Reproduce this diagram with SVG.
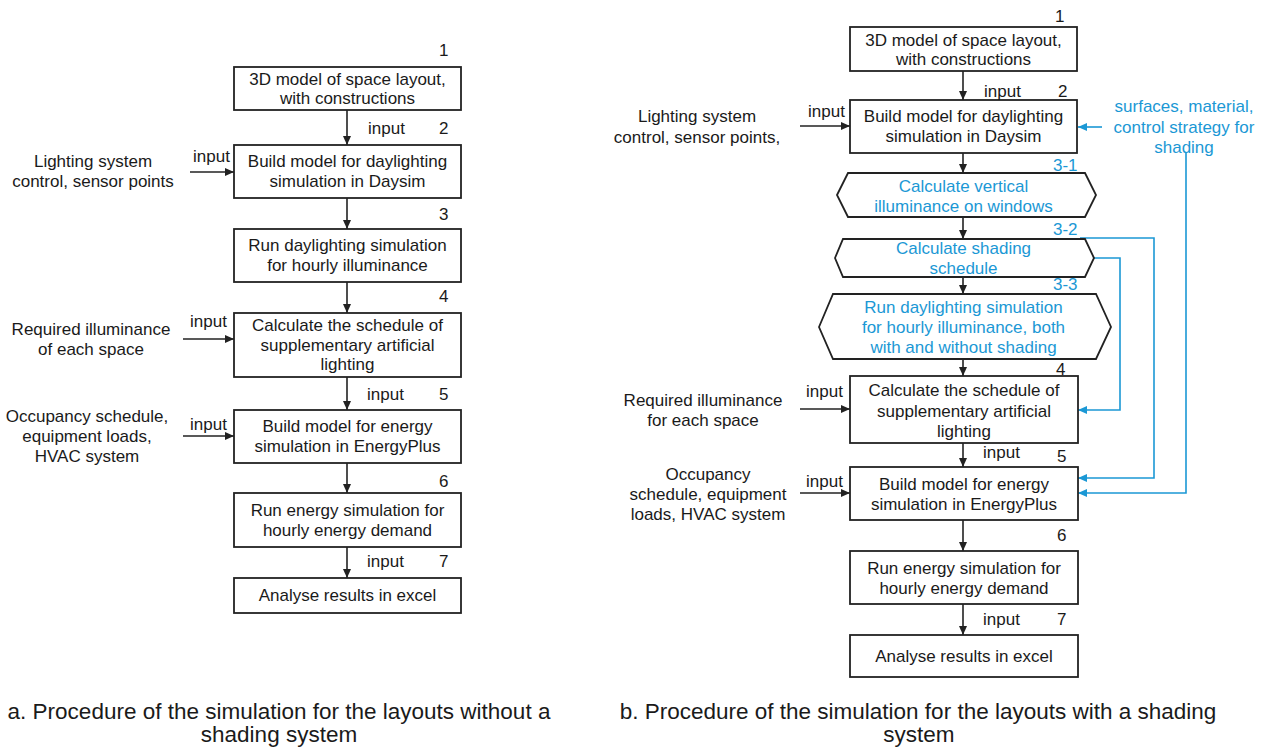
<svg xmlns="http://www.w3.org/2000/svg" width="1264" height="749" viewBox="0 0 1264 749">
<defs>
<style>
text{font-family:"Liberation Sans",Arial,sans-serif;font-size:17px;fill:#1a1a1a}
.c{text-anchor:middle}
.b{fill:#1b98d5}
.cap{font-size:22.5px}
.box{fill:#fff;stroke:#222;stroke-width:1.8}
.ln{fill:none;stroke:#222;stroke-width:1.6}
.bl{fill:none;stroke:#1b98d5;stroke-width:1.6}
</style>
<marker id="ah" markerWidth="10" markerHeight="10" refX="9" refY="5" orient="auto" markerUnits="userSpaceOnUse">
<path d="M0,1 L9,5 L0,9 Z" fill="#222"/>
</marker>
<marker id="ahb" markerWidth="10" markerHeight="10" refX="9" refY="5" orient="auto" markerUnits="userSpaceOnUse">
<path d="M0,1 L9,5 L0,9 Z" fill="#1b98d5"/>
</marker>
</defs>
<rect width="1264" height="749" fill="#fff"/>

<g id="connectors">
<!-- left diagram -->
<line class="ln" x1="347" y1="110" x2="347" y2="145" marker-end="url(#ah)"/>
<line class="ln" x1="190" y1="172" x2="234" y2="172" marker-end="url(#ah)"/>
<line class="ln" x1="347" y1="198" x2="347" y2="229" marker-end="url(#ah)"/>
<line class="ln" x1="347" y1="282" x2="347" y2="313" marker-end="url(#ah)"/>
<line class="ln" x1="183" y1="339" x2="234" y2="339" marker-end="url(#ah)"/>
<line class="ln" x1="347" y1="377" x2="347" y2="410" marker-end="url(#ah)"/>
<line class="ln" x1="183" y1="436" x2="234" y2="436" marker-end="url(#ah)"/>
<line class="ln" x1="347" y1="463" x2="347" y2="493" marker-end="url(#ah)"/>
<line class="ln" x1="347" y1="547" x2="347" y2="578" marker-end="url(#ah)"/>
<!-- right diagram -->
<line class="ln" x1="963" y1="71" x2="963" y2="100" marker-end="url(#ah)"/>
<line class="ln" x1="800" y1="126" x2="850" y2="126" marker-end="url(#ah)"/>
<line class="bl" x1="1102" y1="127" x2="1078" y2="127" marker-end="url(#ahb)"/>
<line class="ln" x1="963" y1="153" x2="963" y2="173" marker-end="url(#ah)"/>
<line class="ln" x1="963" y1="217" x2="963" y2="239" marker-end="url(#ah)"/>
<line class="ln" x1="963" y1="277" x2="963" y2="294" marker-end="url(#ah)"/>
<line class="ln" x1="963" y1="359" x2="963" y2="376" marker-end="url(#ah)"/>
<line class="ln" x1="800" y1="409" x2="850" y2="409" marker-end="url(#ah)"/>
<line class="ln" x1="963" y1="443" x2="963" y2="467" marker-end="url(#ah)"/>
<line class="ln" x1="800" y1="493" x2="850" y2="493" marker-end="url(#ah)"/>
<line class="ln" x1="963" y1="520" x2="963" y2="551" marker-end="url(#ah)"/>
<line class="ln" x1="963" y1="604" x2="963" y2="635" marker-end="url(#ah)"/>
<polyline class="bl" points="1080,238 1154,238 1154,478 1078,478" marker-end="url(#ahb)"/>
<polyline class="bl" points="1094,258 1120,258 1120,410 1078,410" marker-end="url(#ahb)"/>
<polyline class="bl" points="1186,153 1186,493 1078,493" marker-end="url(#ahb)"/>
</g>

<!-- ===== Diagram a ===== -->
<g id="a1">
<rect class="box" x="234" y="67" width="227" height="43"/>
<text class="c" x="347.5" y="85">3D model of space layout,</text>
<text class="c" x="347.5" y="104">with constructions</text>
<text x="439" y="56">1</text>
</g>
<g id="a2">
<rect class="box" x="234" y="145" width="227" height="53"/>
<text class="c" x="347.5" y="167">Build model for daylighting</text>
<text class="c" x="347.5" y="187">simulation in Daysim</text>
<text x="368" y="134">input</text>
<text x="439" y="134">2</text>
</g>
<g id="a2in">
<text x="193" y="162">input</text>
<text class="c" x="93" y="167">Lighting system</text>
<text class="c" x="93" y="187">control, sensor points</text>
</g>
<g id="a3">
<rect class="box" x="234" y="229" width="227" height="53"/>
<text class="c" x="347.5" y="251">Run daylighting simulation</text>
<text class="c" x="347.5" y="271">for hourly illuminance</text>
<text x="439" y="220">3</text>
</g>
<g id="a4">
<rect class="box" x="234" y="313" width="227" height="64"/>
<text class="c" x="347.5" y="331">Calculate the schedule of</text>
<text class="c" x="347.5" y="351">supplementary artificial</text>
<text class="c" x="347.5" y="370">lighting</text>
<text x="439" y="302">4</text>
</g>
<g id="a4in">
<text x="190" y="327">input</text>
<text class="c" x="91" y="335">Required illuminance</text>
<text class="c" x="91" y="355">of each space</text>
</g>
<g id="a5">
<rect class="box" x="234" y="410" width="227" height="53"/>
<text class="c" x="347.5" y="432">Build model for energy</text>
<text class="c" x="347.5" y="452">simulation in EnergyPlus</text>
<text x="367" y="400">input</text>
<text x="439" y="400">5</text>
</g>
<g id="a5in">
<text x="190" y="430">input</text>
<text class="c" x="87" y="422">Occupancy schedule,</text>
<text class="c" x="87" y="442">equipment loads,</text>
<text class="c" x="87" y="462">HVAC system</text>
</g>
<g id="a6">
<rect class="box" x="234" y="493" width="227" height="54"/>
<text class="c" x="347.5" y="516">Run energy simulation for</text>
<text class="c" x="347.5" y="536">hourly energy demand</text>
<text x="439" y="487">6</text>
</g>
<g id="a7">
<rect class="box" x="234" y="578" width="227" height="35"/>
<text class="c" x="347.5" y="601">Analyse results in excel</text>
<text x="367" y="567">input</text>
<text x="439" y="567">7</text>
</g>
<g id="captionA">
<text class="c cap" x="279" y="719">a. Procedure of the simulation for the layouts without a</text>
<text class="c cap" x="279" y="742">shading system</text>
</g>

<!-- ===== Diagram b ===== -->
<g id="b1">
<rect class="box" x="850" y="27" width="227" height="44"/>
<text class="c" x="963.5" y="46">3D model of space layout,</text>
<text class="c" x="963.5" y="65">with constructions</text>
<text x="1055" y="22">1</text>
</g>
<g id="b2">
<rect class="box" x="850" y="100" width="227" height="53"/>
<text class="c" x="963.5" y="122">Build model for daylighting</text>
<text class="c" x="963.5" y="142">simulation in Daysim</text>
<text x="984" y="97">input</text>
<text x="1058" y="97">2</text>
</g>
<g id="b2in">
<text x="808" y="117">input</text>
<text class="c" x="697" y="122">Lighting system</text>
<text class="c" x="697" y="143">control, sensor points,</text>
</g>
<g id="b2shading">
<text class="c b" x="1184" y="112">surfaces, material,</text>
<text class="c b" x="1184" y="133">control strategy for</text>
<text class="c b" x="1184" y="153">shading</text>
</g>
<g id="b31">
<polygon class="box" points="837,195 848,173 1085,173 1096,195 1085,217 848,217"/>
<text class="c b" x="963.5" y="192">Calculate vertical</text>
<text class="c b" x="963.5" y="212">illuminance on windows</text>
<text class="b" x="1053" y="171">3-1</text>
</g>
<g id="b32">
<polygon class="box" points="835,258 843,239 1085,239 1094,258 1085,277 843,277"/>
<text class="c b" x="963.5" y="254">Calculate shading</text>
<text class="c b" x="963.5" y="274">schedule</text>
<text class="b" x="1053" y="235">3-2</text>
</g>
<g id="b33">
<polygon class="box" points="819,327 833,294 1096,294 1111,327 1096,359 833,359"/>
<text class="c b" x="963.5" y="313">Run daylighting simulation</text>
<text class="c b" x="963.5" y="333">for hourly illuminance, both</text>
<text class="c b" x="963.5" y="353">with and without shading</text>
<text class="b" x="1053" y="290">3-3</text>
</g>
<g id="b4">
<rect class="box" x="850" y="376" width="228" height="67"/>
<text class="c" x="964" y="396">Calculate the schedule of</text>
<text class="c" x="964" y="417">supplementary artificial</text>
<text class="c" x="964" y="437">lighting</text>
<text x="1056" y="375">4</text>
</g>
<g id="b4in">
<text x="806" y="397">input</text>
<text class="c" x="703" y="406">Required illuminance</text>
<text class="c" x="703" y="426">for each space</text>
</g>
<g id="b5">
<rect class="box" x="850" y="467" width="228" height="53"/>
<text class="c" x="964" y="490">Build model for energy</text>
<text class="c" x="964" y="510">simulation in EnergyPlus</text>
<text x="983" y="458">input</text>
<text x="1057" y="462">5</text>
</g>
<g id="b5in">
<text x="806" y="487">input</text>
<text class="c" x="708" y="480">Occupancy</text>
<text class="c" x="708" y="500">schedule, equipment</text>
<text class="c" x="708" y="520">loads, HVAC system</text>
</g>
<g id="b6">
<rect class="box" x="850" y="551" width="228" height="53"/>
<text class="c" x="964" y="574">Run energy simulation for</text>
<text class="c" x="964" y="594">hourly energy demand</text>
<text x="1057" y="541">6</text>
</g>
<g id="b7">
<rect class="box" x="850" y="635" width="228" height="42"/>
<text class="c" x="964" y="662">Analyse results in excel</text>
<text x="983" y="625">input</text>
<text x="1057" y="625">7</text>
</g>
<g id="captionB">
<text class="c cap" x="918" y="719">b. Procedure of the simulation for the layouts with a shading</text>
<text class="c cap" x="919" y="742">system</text>
</g>
</svg>
